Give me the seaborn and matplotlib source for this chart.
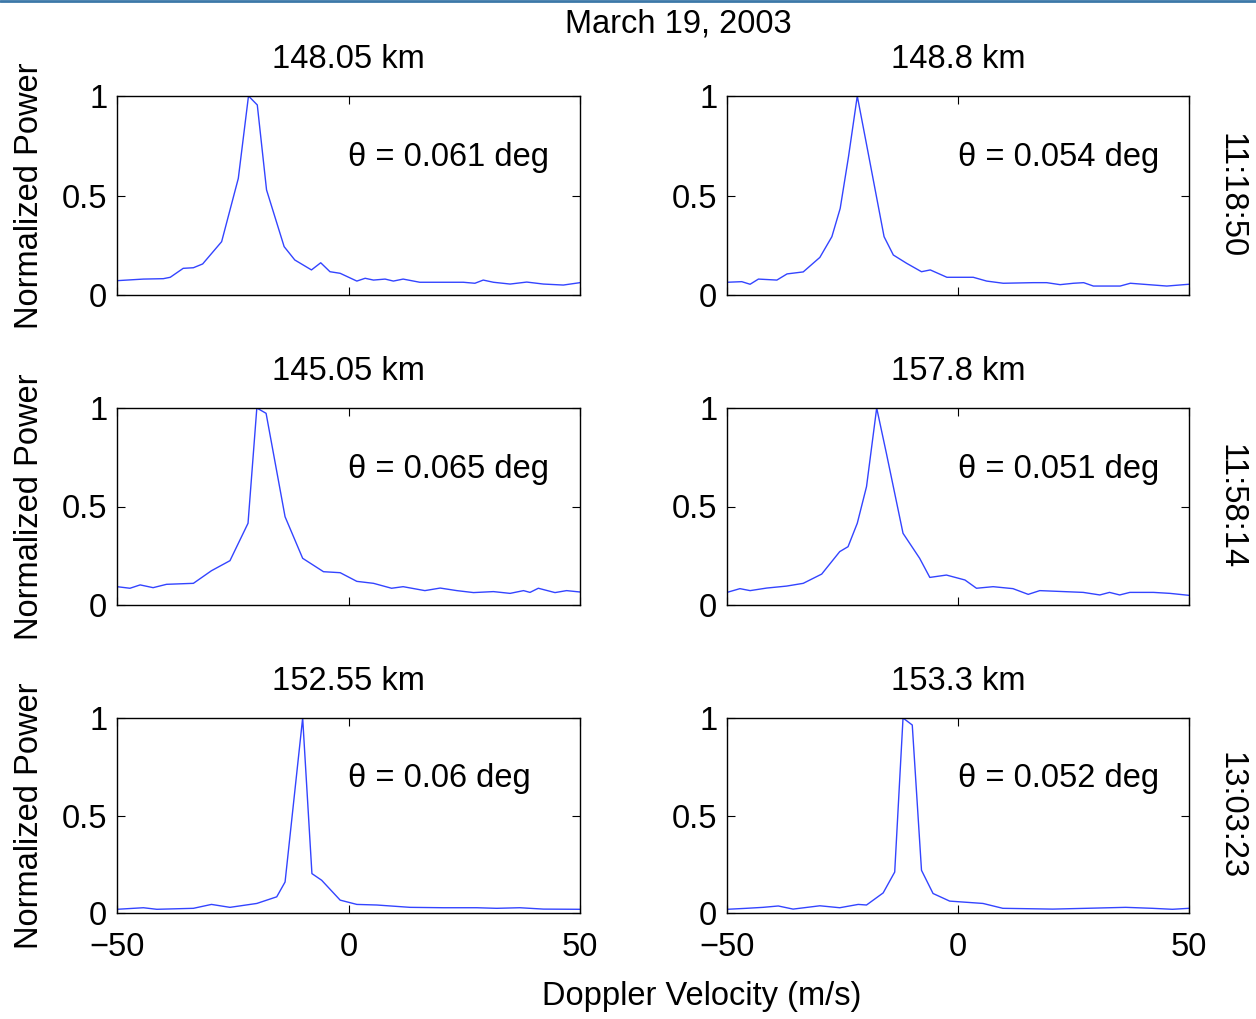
import matplotlib
matplotlib.use("Agg")
import matplotlib.pyplot as plt
import seaborn as sns
from matplotlib.lines import Line2D

# ---------------- data ----------------
heights = ["148.05 km", "148.8 km", "145.05 km", "157.8 km", "152.55 km", "153.3 km"]
thetas = ["θ = 0.061 deg", "θ = 0.054 deg", "θ = 0.065 deg", "θ = 0.051 deg", "θ = 0.06 deg", "θ = 0.052 deg"]
times = ["11:18:50", "11:58:14", "13:03:23"]

v1 = [-50, -44.3, -40, -38.5, -35.7, -33.5, -31.5, -27.4, -23.8, -21.6, -19.7, -17.7, -13.9, -11.6, -8.0, -6.0, -4.0,
      -1.8, 1.8, 3.6, 5.4, 7.9, 9.7, 11.8, 15.4, 20.5, 24.8, 27.3, 29.1, 31.3, 34.9, 38.5, 42.1, 46.4, 50]
p1 = [0.072, 0.080, 0.082, 0.089, 0.134, 0.137, 0.156, 0.268, 0.586, 1.0, 0.955, 0.528, 0.243, 0.176, 0.126, 0.162, 0.117,
      0.109, 0.070, 0.084, 0.075, 0.080, 0.070, 0.080, 0.064, 0.064, 0.064, 0.059, 0.075, 0.064, 0.055, 0.065, 0.055, 0.050, 0.062]

v2 = [-50, -46.8, -45.0, -43.2, -39.2, -37.0, -33.5, -29.9, -27.3, -25.5, -23.7, -21.8, -19.7, -16.0, -14.0, -11.1, -7.9,
      -6.0, -2.4, 3.3, 6.2, 9.8, 16.3, 19.2, 22.1, 25.0, 27.2, 29.3, 35.1, 37.3, 40.1, 45.2, 50]
p2 = [0.064, 0.067, 0.054, 0.080, 0.075, 0.106, 0.116, 0.189, 0.293, 0.435, 0.695, 1.0, 0.745, 0.293, 0.201, 0.159, 0.117,
      0.126, 0.089, 0.089, 0.070, 0.059, 0.062, 0.062, 0.052, 0.059, 0.062, 0.045, 0.045, 0.059, 0.054, 0.045, 0.054]

v3 = [-50, -47.2, -45.0, -42.2, -39.3, -33.5, -29.6, -25.6, -21.7, -19.8, -17.8, -13.7, -9.9, -5.4, -1.8, 1.8, 5.4, 9.3,
      11.8, 16.5, 19.8, 23.4, 27.0, 31.3, 34.9, 37.8, 39.2, 41.0, 44.6, 47.1, 50]
p3 = [0.093, 0.085, 0.102, 0.088, 0.105, 0.110, 0.174, 0.225, 0.415, 1.0, 0.973, 0.448, 0.237, 0.169, 0.164, 0.120, 0.110, 0.085,
      0.093, 0.073, 0.086, 0.073, 0.063, 0.068, 0.059, 0.073, 0.064, 0.085, 0.063, 0.073, 0.066]

v4 = [-50, -47.2, -45.0, -41.4, -37.1, -33.5, -29.5, -25.6, -23.8, -21.8, -19.8, -17.6, -15.5, -11.9, -8.3, -6.1, -2.5,
      1.5, 4.0, 7.6, 11.9, 15.2, 17.7, 27.1, 30.7, 32.8, 35.0, 37.2, 42.3, 45.9, 50]
p4 = [0.064, 0.083, 0.073, 0.086, 0.096, 0.110, 0.157, 0.271, 0.296, 0.415, 0.601, 1.0, 0.770, 0.364, 0.237, 0.140, 0.152,
      0.127, 0.085, 0.093, 0.083, 0.054, 0.073, 0.064, 0.051, 0.064, 0.051, 0.064, 0.064, 0.059, 0.049]

v5 = [-50, -44.3, -41.4, -33.5, -29.6, -25.6, -19.8, -15.5, -13.7, -9.9, -7.9, -5.8, -1.8, 1.8, 6.1, 13.3, 20.5, 27.7,
      32.0, 37.0, 42.1, 50]
p5 = [0.019, 0.027, 0.019, 0.024, 0.044, 0.029, 0.049, 0.083, 0.159, 1.0, 0.202, 0.168, 0.066, 0.044, 0.041, 0.029, 0.027, 0.027,
      0.024, 0.027, 0.020, 0.019]

v6 = [-50, -45.8, -42.2, -38.9, -35.7, -29.9, -25.6, -21.6, -19.8, -16.2, -13.7, -11.9, -9.9, -7.9, -5.4, -1.8, 5.4, 9.7,
      20.5, 27.7, 36.3, 42.1, 46.4, 50]
p6 = [0.019, 0.024, 0.029, 0.036, 0.020, 0.037, 0.027, 0.044, 0.041, 0.103, 0.210, 1.0, 0.964, 0.219, 0.100, 0.061, 0.049, 0.024,
      0.020, 0.024, 0.029, 0.024, 0.019, 0.024]

velocities = [v1, v2, v3, v4, v5, v6]
powers = [p1, p2, p3, p4, p5, p6]

xticks = [-50, 0, 50]
yticks = [0, 0.5, 1]
yticklabels = ["0", "0.5", "1"]
xticklabels = ["\u221250", "0", "50"]

# ---------------- style ----------------
sns.set_style("ticks")
plt.rcParams["font.family"] = ["Liberation Sans", "DejaVu Sans"]
plt.rcParams["text.color"] = "black"
plt.rcParams["axes.labelcolor"] = "black"
plt.rcParams["xtick.color"] = "black"
plt.rcParams["ytick.color"] = "black"
plt.rcParams["axes.linewidth"] = 1.0

FS = 23.5
W, H = 1256, 1019
fig = plt.figure(figsize=(W / 100, H / 100), dpi=100)

cols = [(117, 580), (727, 1189)]
rows = [(96, 295), (408, 605), (718, 913)]
line_color = "#3344ff"

for i in range(6):
    r, c = divmod(i, 2)
    x0, x1 = cols[c]
    y0, y1 = rows[r]
    ax = fig.add_axes([x0 / W, 1 - y1 / H, (x1 - x0) / W, (y1 - y0) / H])
    sns.lineplot(x=velocities[i], y=powers[i], ax=ax, color=line_color, linewidth=1.0,
                 estimator=None, sort=False)
    ax.set_xlim(-50, 50)
    ax.set_ylim(0, 1)
    ax.set_xticks(xticks)
    ax.set_yticks(yticks)
    ax.set_yticklabels(yticklabels)
    ax.tick_params(axis="both", which="both", direction="in", length=6, width=0.8,
                   top=True, right=True, labelsize=FS, colors="black")
    ax.tick_params(axis="x", pad=14)
    ax.tick_params(axis="y", pad=7)
    if r == 2:
        ax.set_xticklabels(xticklabels)
    else:
        ax.set_xticklabels([])
    for s in ax.spines.values():
        s.set_visible(True)
        s.set_color("black")
        s.set_linewidth(1.0)
    ax.set_xlabel("")
    ax.set_ylabel("")
    if c == 0:
        ax.set_ylabel("Normalized Power", fontsize=FS, labelpad=12)
    ax.set_title(heights[i], fontsize=FS, pad=20)
    ax.text(0, 0.69, thetas[i], fontsize=FS, ha="left", va="center")
    if c == 1:
        ax.text(1.09, 0.5, times[r], transform=ax.transAxes, rotation=-90,
                ha="center", va="center", fontsize=FS)

fig.text(678 / W, 1 - 24 / H, "March 19, 2003", ha="center", va="center", fontsize=FS)
fig.text(702 / W, 1 - 997 / H, "Doppler Velocity (m/s)", ha="center", va="center", fontsize=FS)

# thin blue border line at the very top of the image
fig.add_artist(Line2D([0, 1], [1 - 1 / H, 1 - 1 / H], transform=fig.transFigure,
                      color="#3c78a8", linewidth=2))

fig.savefig("out.png", dpi=100, facecolor="white")
